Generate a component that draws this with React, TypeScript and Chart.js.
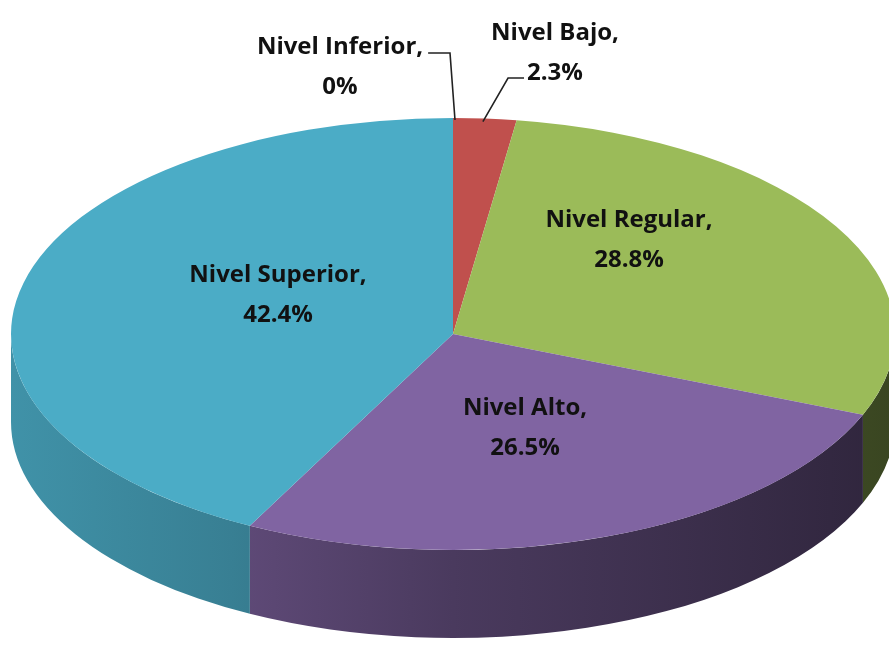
import React, { useEffect, useRef } from "react";
import { Chart, registerables } from "chart.js";

Chart.register(...registerables);

// ---- data ----
const categories = ["Nivel Inferior", "Nivel Bajo", "Nivel Regular", "Nivel Alto", "Nivel Superior"];
const percentages = [0, 2.3, 28.8, 26.5, 42.4];
const valueLabels = ["0%", "2.3%", "28.8%", "26.5%", "42.4%"];
const sliceColors = ["#4F81BD", "#C0504D", "#9BBB59", "#8064A2", "#4BACC6"];

// ---- layout (3D projection of the pie) ----
const W = 889;
const H = 654;
const CX = 453;
const CY = 334;
const RX = 442;
const RY = 216;
const DEPTH = 88;

// label text anchors: centre x, baseline of first line
const labelAnchors = [
  [340, 54],
  [555, 40],
  [629, 227],
  [525, 415],
  [278, 282],
];
const LINE_GAP = 40;
const FONT = "bold 24px 'Open Sans'";

function hexToRgb(hex: string) {
  const n = parseInt(hex.slice(1), 16);
  return [(n >> 16) & 255, (n >> 8) & 255, n & 255];
}
function shade(hex: string, f: number) {
  const [r, g, b] = hexToRgb(hex);
  return `rgb(${Math.round(r * f)},${Math.round(g * f)},${Math.round(b * f)})`;
}
function ellipsePoint(a: number, dy = 0) {
  return [CX + RX * Math.cos(a), CY + dy + RY * Math.sin(a)];
}

const pie3d = {
  id: "pie3d",
  beforeDatasetsDraw(chart: any) {
    const meta = chart.getDatasetMeta(0);
    const arcs = meta.data;
    const ctx = chart.ctx;
    if (!arcs.length) return;
    // side walls (front half only)
    arcs.forEach((arc: any, i: number) => {
      const { startAngle, endAngle } = arc.getProps(["startAngle", "endAngle"], true);
      const s = Math.max(startAngle, 0);
      const e = Math.min(endAngle, Math.PI);
      if (e <= s) return;
      const base = sliceColors[i];
      const grad = ctx.createLinearGradient(CX - RX, 0, CX + RX, 0);
      grad.addColorStop(0, shade(base, 0.85));
      grad.addColorStop(0.25, shade(base, 0.74));
      grad.addColorStop(0.5, shade(base, 0.58));
      grad.addColorStop(1, shade(base, 0.37));
      ctx.save();
      ctx.beginPath();
      ctx.ellipse(CX, CY, RX, RY, 0, s, e, false);
      ctx.ellipse(CX, CY + DEPTH, RX, RY, 0, e, s, true);
      ctx.closePath();
      ctx.fillStyle = grad;
      ctx.fill();
      ctx.restore();
    });
    const { x, y, outerRadius } = arcs[0].getProps(["x", "y", "outerRadius"], true);
    ctx.save();
    ctx.translate(CX, CY);
    ctx.scale(RX / outerRadius, RY / outerRadius);
    ctx.translate(-x, -y);
  },
  afterDatasetsDraw(chart: any) {
    chart.ctx.restore();
  },
  afterDraw(chart: any) {
    const ctx = chart.ctx;
    const arcs = chart.getDatasetMeta(0).data;
    ctx.save();
    ctx.font = FONT;
    ctx.fillStyle = "#111";
    ctx.textAlign = "center";
    ctx.textBaseline = "alphabetic";
    categories.forEach((c, i) => {
      const [lx, ly] = labelAnchors[i];
      ctx.fillText(c + ",", lx, ly);
      ctx.fillText(valueLabels[i], lx, ly + LINE_GAP);
    });
    // leader lines for the tiny slices
    ctx.strokeStyle = "#222";
    ctx.lineWidth = 1.6;
    const a0 = arcs[0].getProps(["startAngle", "endAngle"], true);
    const p0 = ellipsePoint((a0.startAngle + a0.endAngle) / 2);
    const w0 = ctx.measureText(categories[0] + ",").width;
    const x0 = labelAnchors[0][0] + w0 / 2 + 5;
    const y0 = labelAnchors[0][1] - 1;
    ctx.beginPath();
    ctx.moveTo(x0, y0);
    ctx.lineTo(450, y0);
    ctx.lineTo(p0[0] + 2, p0[1] + 2);
    ctx.stroke();
    const a1 = arcs[1].getProps(["startAngle", "endAngle"], true);
    const p1 = ellipsePoint((a1.startAngle + a1.endAngle) / 2);
    const w1 = ctx.measureText(valueLabels[1]).width;
    const x1 = labelAnchors[1][0] - w1 / 2 - 3;
    const y1 = labelAnchors[1][1] + LINE_GAP - 2;
    ctx.beginPath();
    ctx.moveTo(x1, y1);
    ctx.lineTo(x1 - 16, y1);
    ctx.lineTo(p1[0] - 2, p1[1] + 3);
    ctx.stroke();
    ctx.restore();
  },
};

export default function App() {
  const ref = useRef<HTMLCanvasElement>(null);
  useEffect(() => {
    if (!ref.current) return;
    const chart = new Chart(ref.current, {
      type: "pie",
      data: {
        labels: categories,
        datasets: [
          {
            data: percentages,
            backgroundColor: sliceColors,
            borderWidth: 0,
            clip: false,
          } as any,
        ],
      },
      options: {
        responsive: false,
        devicePixelRatio: 1,
        animation: false,
        events: [],
        layout: { padding: 0 },
        plugins: {
          legend: { display: false },
          tooltip: { enabled: false },
        },
      },
      plugins: [pie3d],
    });
    return () => chart.destroy();
  }, []);
  return (
    <div style={{ position: "absolute", left: 0, top: 0, width: W, height: H, background: "#fff" }}>
      <canvas ref={ref} width={W} height={H} style={{ display: "block" }} />
    </div>
  );
}
